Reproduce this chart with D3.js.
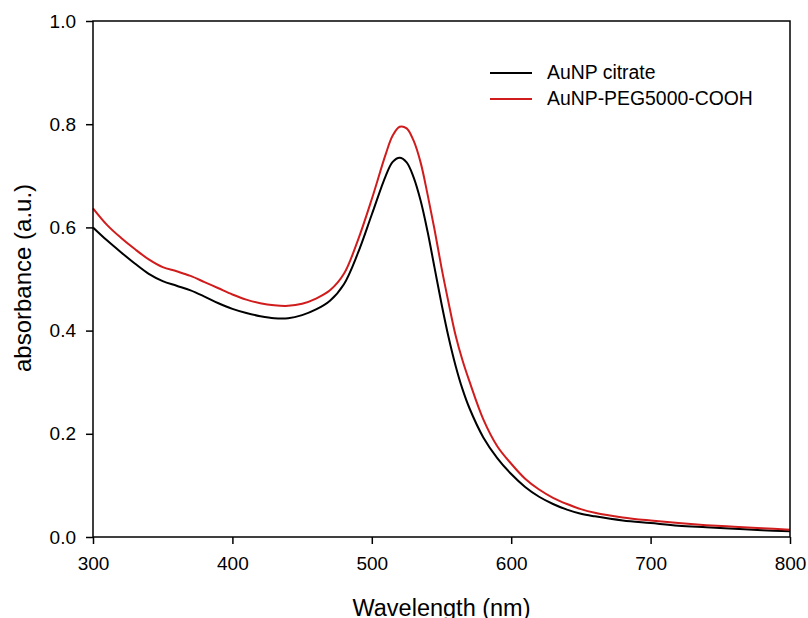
<!DOCTYPE html>
<html>
<head>
<meta charset="utf-8">
<script src="https://cdn.jsdelivr.net/npm/d3@7"></script>
<style>
  body { margin: 0; background: #fff; }
  text { font-family: "Liberation Sans", Arial, sans-serif; fill: #000; }
</style>
</head>
<body>
<svg width="808" height="618"></svg>
<script>
// wavelength (nm)
let wavelengths = [300, 310, 320, 330, 340, 350, 360, 370, 380, 390, 400, 410, 420, 430, 440,
  450, 460, 470, 480, 490, 500, 510, 515, 520, 525, 530, 535, 540, 545, 550, 555, 560, 565, 570,
  580, 590, 600, 610, 620, 630, 640, 650, 660, 680, 700, 720, 740, 760, 780, 800];

let citrate = [0.600, 0.575, 0.552, 0.530, 0.510, 0.496, 0.487, 0.478, 0.466, 0.453, 0.442,
  0.434, 0.428, 0.424, 0.424, 0.430, 0.441, 0.458, 0.490, 0.550, 0.625, 0.700, 0.727, 0.735,
  0.726, 0.697, 0.652, 0.592, 0.522, 0.452, 0.388, 0.333, 0.287, 0.250, 0.193, 0.153, 0.122,
  0.097, 0.078, 0.064, 0.053, 0.045, 0.040, 0.032, 0.027, 0.022, 0.019, 0.016, 0.013, 0.011];

let peg = [0.637, 0.605, 0.580, 0.558, 0.538, 0.523, 0.515, 0.506, 0.494, 0.482, 0.470,
  0.460, 0.453, 0.449, 0.448, 0.452, 0.462, 0.478, 0.510, 0.575, 0.655, 0.742, 0.778, 0.795,
  0.792, 0.768, 0.726, 0.664, 0.596, 0.522, 0.455, 0.392, 0.343, 0.302, 0.228, 0.176, 0.142,
  0.113, 0.092, 0.076, 0.064, 0.054, 0.047, 0.038, 0.032, 0.027, 0.023, 0.020, 0.017, 0.014];

let seriesNames = ["AuNP citrate", "AuNP-PEG5000-COOH"];
let seriesColors = ["#000000", "#d01c1c"];
let xTicks = [300, 400, 500, 600, 700, 800];
let yTicks = [0.0, 0.2, 0.4, 0.6, 0.8, 1.0];

let plotLeft = 93, plotRight = 790, plotTop = 21, plotBottom = 537;

let svg = d3.select("svg");

let xScale = d3.scaleLinear()
    .domain([300, 800])
    .range([plotLeft, plotRight]);

let yScale = d3.scaleLinear()
    .domain([0, 1])
    .range([plotBottom, plotTop]);

// curves
let line = d3.line()
    .x(function(d) { return xScale(d[0]); })
    .y(function(d) { return yScale(d[1]); })
    .curve(d3.curveCatmullRom.alpha(0.5));

[citrate, peg].forEach(function(values, i) {
    svg.append("path")
        .datum(wavelengths.map(function(w, j) { return [w, values[j]]; }))
        .attr("fill", "none")
        .attr("stroke", seriesColors[i])
        .attr("stroke-width", 2)
        .attr("d", line);
});

// frame
svg.append("rect")
    .attr("x", plotLeft)
    .attr("y", plotTop)
    .attr("width", plotRight - plotLeft)
    .attr("height", plotBottom - plotTop)
    .attr("fill", "none")
    .attr("stroke", "#000")
    .attr("stroke-width", 1.5);

// x axis
let x_axis = d3.axisBottom(xScale)
    .tickValues(xTicks)
    .tickFormat(d3.format("d"))
    .tickSize(7)
    .tickPadding(13);

let gx = svg.append("g")
    .attr("transform", `translate(0, ${plotBottom})`)
    .call(x_axis);
gx.select(".domain").remove();
gx.selectAll("line").attr("stroke-width", 1.5);
gx.selectAll("text").style("font-size", "19px");

// y axis
let y_axis = d3.axisLeft(yScale)
    .tickValues(yTicks)
    .tickFormat(d3.format(".1f"))
    .tickSize(7)
    .tickPadding(10);

let gy = svg.append("g")
    .attr("transform", `translate(${plotLeft}, 0)`)
    .call(y_axis);
gy.select(".domain").remove();
gy.selectAll("line").attr("stroke-width", 1.5);
gy.selectAll("text").style("font-size", "19px");

// axis titles
svg.append("text")
    .attr("x", (plotLeft + plotRight) / 2)
    .attr("y", 616)
    .attr("text-anchor", "middle")
    .style("font-size", "23.5px")
    .text("Wavelength (nm)");

svg.append("text")
    .attr("transform", `translate(31, 278) rotate(-90)`)
    .attr("text-anchor", "middle")
    .style("font-size", "24px")
    .text("absorbance (a.u.)");

// legend
let legend = svg.append("g");
seriesNames.forEach(function(name, i) {
    let y = 73 + i * 26;
    legend.append("line")
        .attr("x1", 490).attr("x2", 532)
        .attr("y1", y).attr("y2", y)
        .attr("stroke", seriesColors[i])
        .attr("stroke-width", 2);
    legend.append("text")
        .attr("x", 547)
        .attr("y", y + 6)
        .style("font-size", "19.4px")
        .text(name);
});
</script>
</body>
</html>
